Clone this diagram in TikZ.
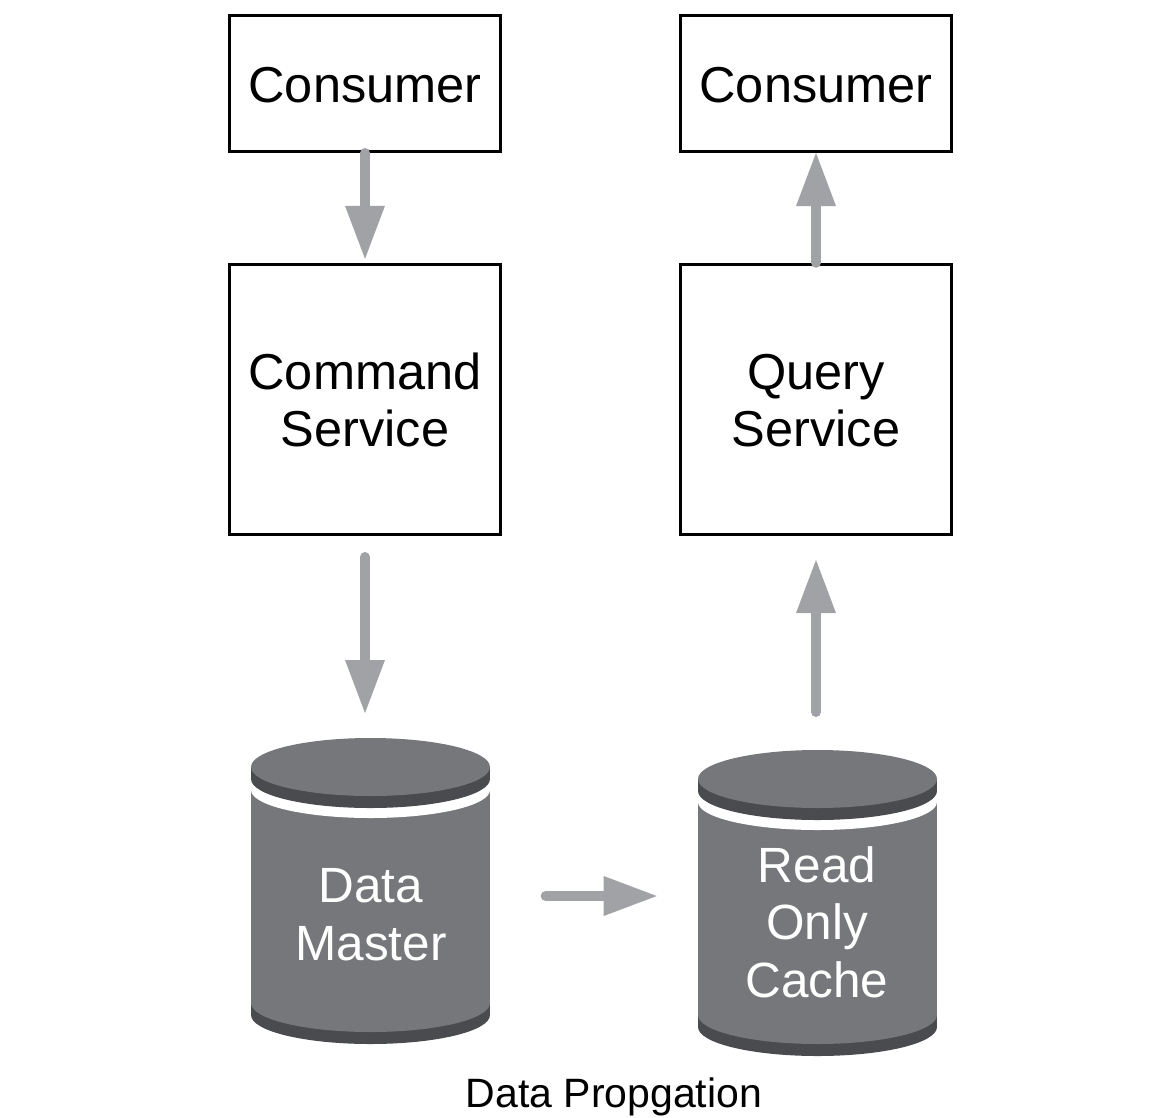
\documentclass[tikz,border=0pt]{standalone}
\usepackage{fontspec}
\setmainfont{Liberation Sans}
\usetikzlibrary{arrows.meta}

\definecolor{arrowgray}{HTML}{A0A2A6}
\definecolor{dbbody}{HTML}{76777B}
\definecolor{dbrim}{HTML}{4A4B4F}

\tikzset{
  box/.style={draw=black, line width=3pt, fill=white, inner sep=0pt,
    minimum width=271pt, outer sep=1.5pt},
  % multi-line labels are placed by the baseline of their last line
  boxtext/.style={anchor=base, inner sep=0pt, align=center,
    font=\fontsize{50.5}{57}\selectfont},
  dbtext/.style={anchor=base, inner sep=0pt, align=center, text=white,
    font=\fontsize{49.5}{57.5}\selectfont},
  flow/.style={draw=arrowgray, line width=10pt, line cap=round,
    -{Triangle[width=40pt, length=53pt, line width=0pt]}},
  dbslot/.style={inner sep=0pt, outer sep=0pt, minimum width=239pt,
    minimum height=307pt},
  % database cylinder, origin at the centre of the top face
  pics/dbcyl/.style={code={
    \fill[dbrim] (0,248) ellipse [x radius=119.5, y radius=29];
    \fill[dbrim] (-119.5,236) rectangle (119.5,248);
    \fill[dbbody] (0,236) ellipse [x radius=119.5, y radius=29];
    \fill[dbbody] (-119.5,23) rectangle (119.5,236);
    \fill[white] (0,23) ellipse [x radius=119.5, y radius=28];
    \fill[dbrim] (0,12) ellipse [x radius=119.5, y radius=29];
    \fill[dbrim] (-119.5,0) rectangle (119.5,12);
    \fill[dbbody] (0,0) ellipse [x radius=119.5, y radius=29];
  }}
}

\begin{document}
\begin{tikzpicture}[x=1pt, y=-1pt]
  \path[use as bounding box] (0,0) rectangle (1165,1117);

  % boxes
  \node[box, minimum height=136pt] (cons1) at (365,83.5) {};
  \node[box, minimum height=136pt] (cons2) at (816,83.5) {};
  \node[box, minimum height=270.2pt] (cmd) at (365,399.4) {};
  \node[box, minimum height=270.2pt] (qry) at (816,399.4) {};

  \node[boxtext] (cons1t) at (365,102) {Consumer};
  \node[boxtext] (cons2t) at (816,102) {Consumer};
  \node[boxtext] (cmdt) at (365,446) {Command\\Service};
  \node[boxtext] (qryt) at (816,446) {Query\\Service};

  % databases
  \pic at (370.5,767) {dbcyl};
  \pic at (817.5,779) {dbcyl};
  \node[dbslot] (dm) at (370.5,891.5) {};
  \node[dbslot] (roc) at (817.5,903.5) {};

  \node[dbtext] (dmt) at (371,960) {Data\\Master};
  \node[dbtext] (roct) at (817,997) {Read\\Only\\Cache};

  % flows
  \draw[flow, shorten >=4pt] (cons1) -- (cmd);
  \draw[flow] (qry) -- (cons2);
  \draw[flow, shorten <=21pt, shorten >=25pt] (cmd.south) -- (cmd.south |- dm.north);
  \draw[flow, shorten <=38pt, shorten >=24pt] (qry.south |- roc.north) -- (qry.south);
  \draw[flow] ([shift={(55.7,4.5)}]dm.east) -- ([shift={(-41.3,-7.5)}]roc.west);

  \node[anchor=base, inner sep=0pt, font=\fontsize{41}{41}\selectfont] (cap)
    at (614,1107) {Data Propgation};
\end{tikzpicture}
\end{document}
